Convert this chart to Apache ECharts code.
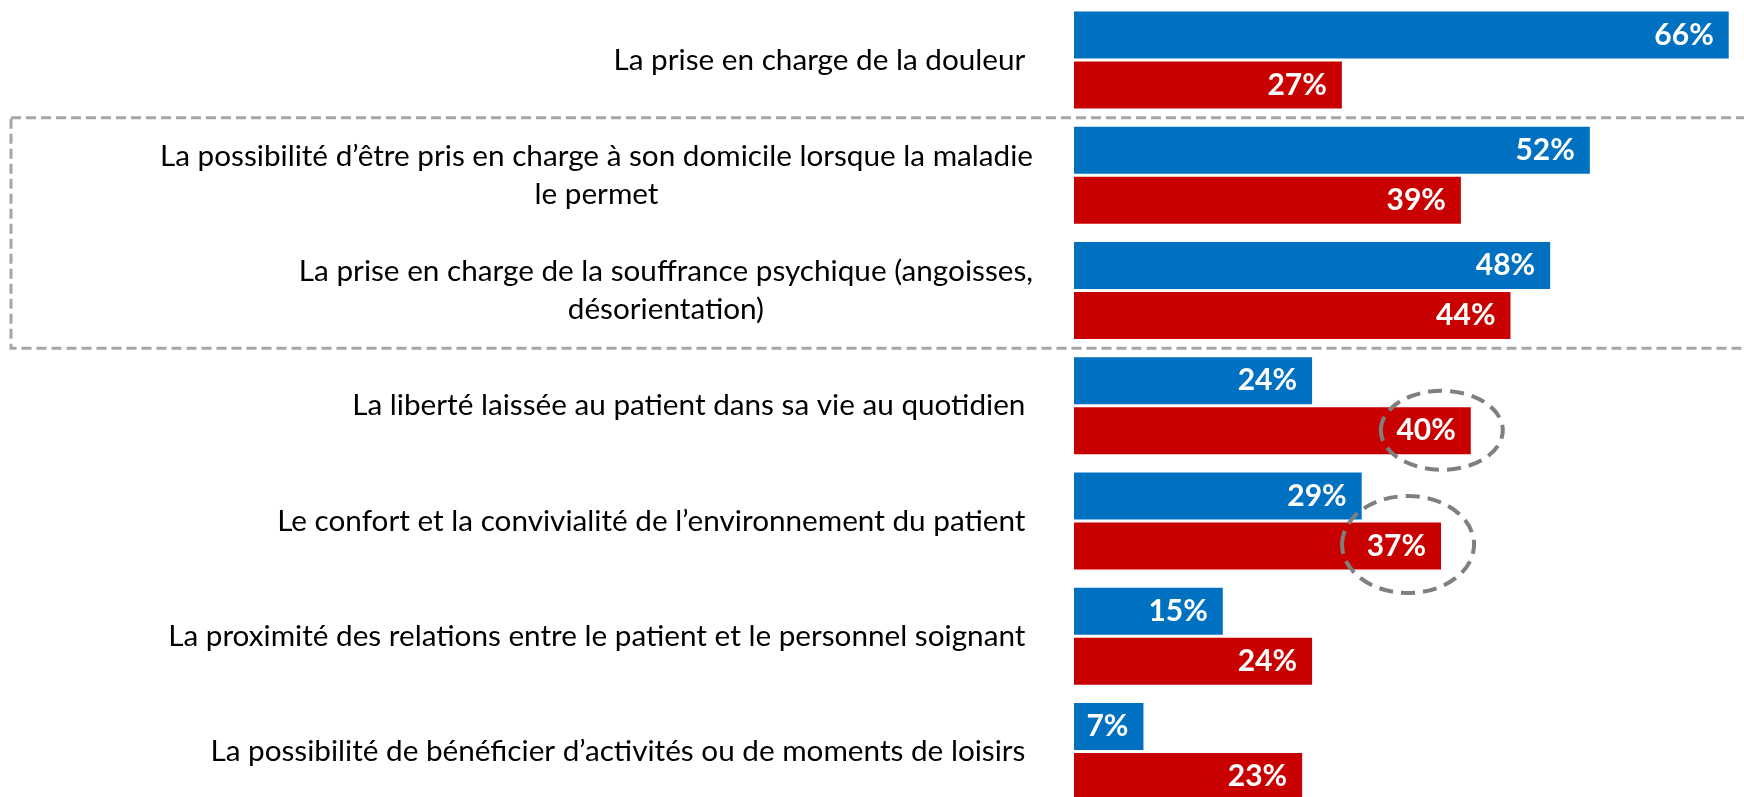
<!DOCTYPE html>
<html><head><meta charset="utf-8">
<script src="https://cdn.jsdelivr.net/npm/echarts@6/dist/echarts.min.js"></script>
<style>html,body{margin:0;padding:0;background:#fff}#c{width:1744px;height:797px}</style>
</head><body><div id="c"></div>
<script>
const categories = [
  'La prise en charge de la douleur ',
  'La possibilité d’être pris en charge à son domicile lorsque la maladie\nle permet',
  'La prise en charge de la souffrance psychique (angoisses,\ndésorientation)',
  'La liberté laissée au patient dans sa vie au quotidien ',
  'Le confort et la convivialité de l’environnement du patient ',
  'La proximité des relations entre le patient et le personnel soignant ',
  'La possibilité de bénéficier d’activités ou de moments de loisirs '
];
const seriesBlue = [66, 52, 48, 24, 29, 15, 7];
const seriesRed = [27, 39, 44, 40, 37, 24, 23];
const circledRed = [3, 4];
const boxedRows = [1, 2];

const FONT = 'Lato';
const chart = echarts.init(document.getElementById('c'), null, {renderer: 'canvas'});
const valueLabel = {
  show: true, position: 'insideRight', distance: 15,
  color: '#fff', fontFamily: FONT, fontWeight: 'bold', fontSize: 30,
  formatter: p => p.value + '%'
};
chart.setOption({
  animation: false,
  backgroundColor: '#fff',
  grid: {left: 1074, top: 2.4, width: 992, height: 806.75, containLabel: false, outerBoundsMode: 'none'},
  xAxis: {type: 'value', min: 0, max: 100, show: false},
  yAxis: {
    type: 'category', data: categories, inverse: true,
    axisLine: {show: false}, axisTick: {show: false}, splitLine: {show: false},
    axisLabel: {
      margin: 41, fontFamily: FONT, fontSize: 29.7, color: '#000', lineHeight: 38,
      formatter: v => v.split('\n').map(s => '{c|' + s + '}').join('\n'),
      rich: {c: {align: 'center', fontFamily: FONT, fontSize: 29.7, color: '#000', lineHeight: 38}}
    }
  },
  series: [
    {name: 'Série 1', type: 'bar', data: seriesBlue, barWidth: 47, barGap: '6.4%',
     itemStyle: {color: '#0070C0'}, label: valueLabel},
    {name: 'Série 2', type: 'bar', data: seriesRed, barWidth: 47, barGap: '6.4%',
     itemStyle: {color: '#C80000'}, label: valueLabel}
  ]
});

function px(v, i) { return chart.convertToPixel({xAxisIndex: 0, yAxisIndex: 0}, [v, i]); }
const p0 = px(0, boxedRows[0]), p1 = px(0, boxedRows[boxedRows.length - 1]);
const pitch = px(0, 1)[1] - px(0, 0)[1];
const graphics = [{
  type: 'rect', silent: true,
  shape: {x: 11, y: p0[1] - pitch / 2, width: 1800, height: (p1[1] - p0[1]) + pitch},
  style: {fill: 'none', stroke: '#A6A6A6', lineWidth: 3, lineDash: [10, 5]}
}];
const ell = [{dx: -29, dy: 24.5, rx: 61, ry: 39.5}, {dx: -33, dy: 23.5, rx: 66, ry: 48.5}];
circledRed.forEach((i, k) => {
  const p = px(seriesRed[i], i);
  graphics.push({
    type: 'ellipse', silent: true, z: 100,
    shape: {cx: p[0] + ell[k].dx, cy: p[1] + ell[k].dy, rx: ell[k].rx, ry: ell[k].ry},
    style: {fill: 'none', stroke: '#7F7F7F', lineWidth: 4, lineDash: [14, 8]}
  });
});
chart.setOption({graphic: graphics});
</script>
</body></html>
